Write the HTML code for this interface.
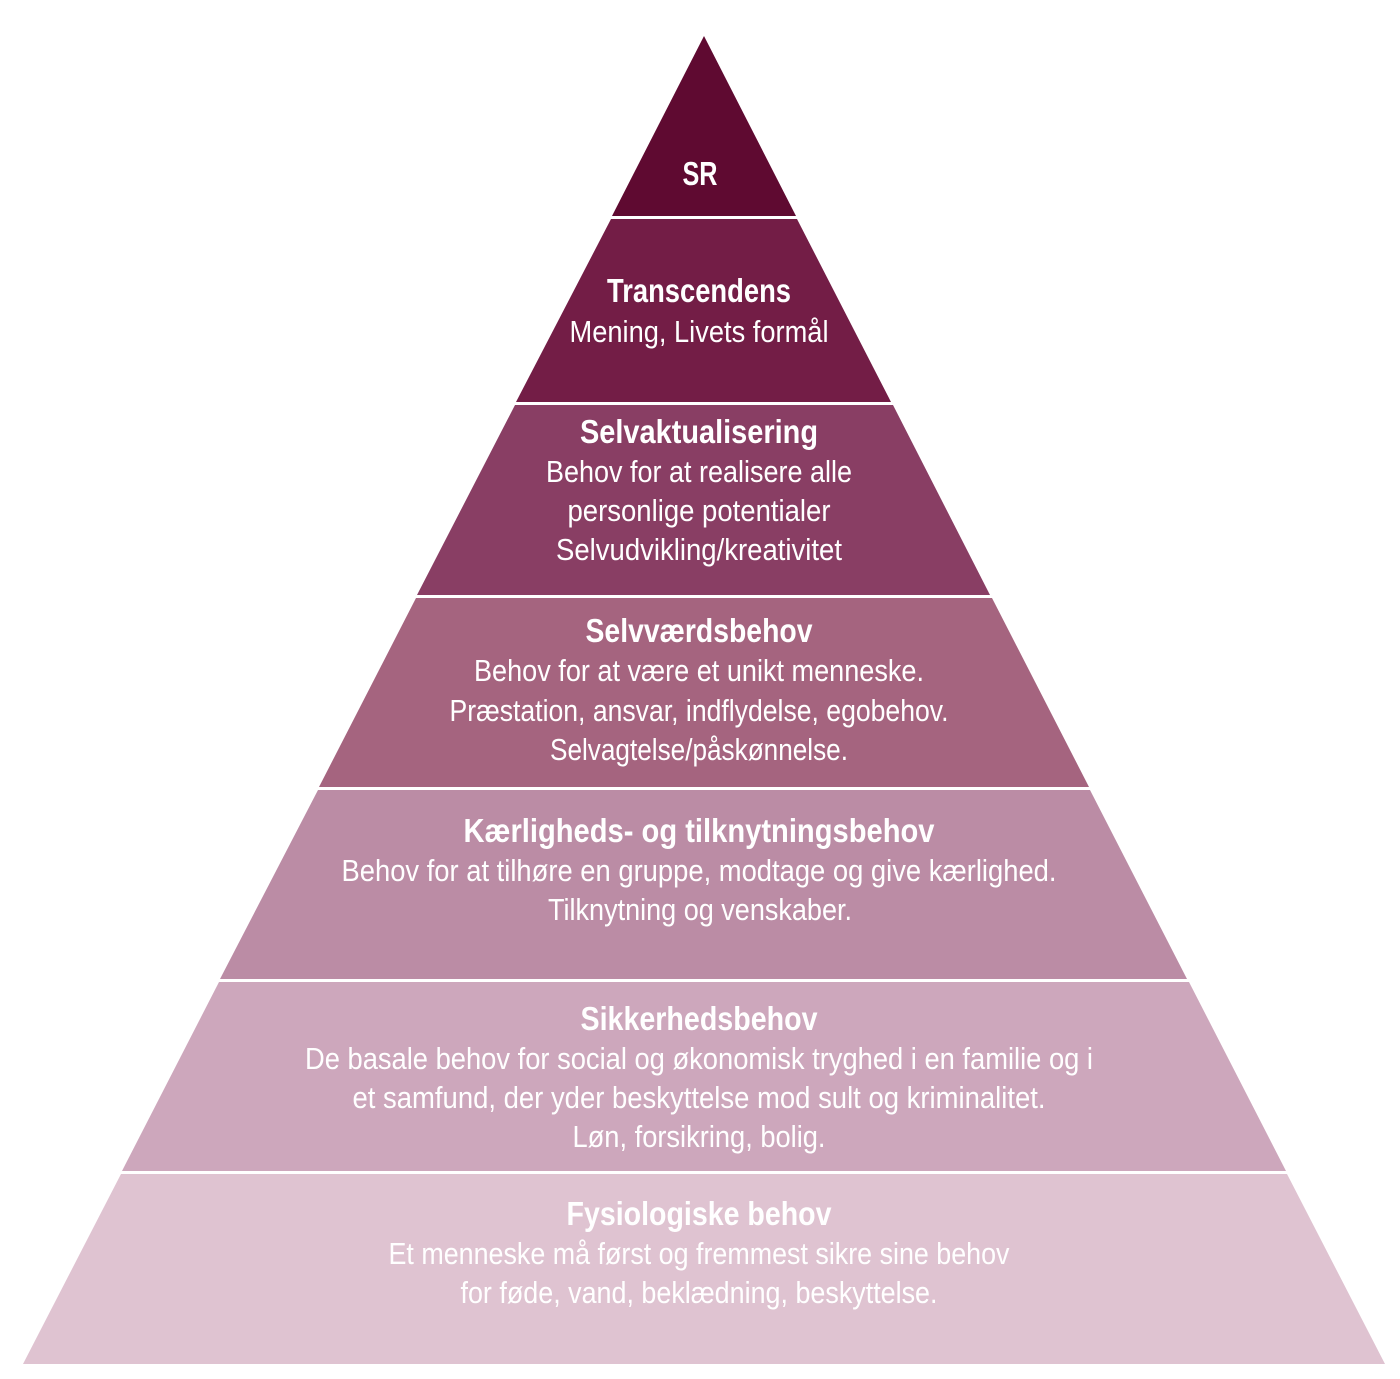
<!DOCTYPE html>
<html><head><meta charset="utf-8"><style>
html,body{margin:0;padding:0;background:#fff;width:1400px;height:1379px;overflow:hidden}
svg{display:block}
text{font-family:"Liberation Sans Narrow","Liberation Sans",sans-serif;fill:#fff;text-anchor:middle}
.b{font-weight:bold;font-size:33px}
.n{font-size:31px}
</style></head><body>
<svg width="1400" height="1379" viewBox="0 0 1400 1379">
<polygon points="704,36 796,216 612,216" fill="#5f0a31"/>
<polygon points="611,219 797,219 891,402 516,402" fill="#731d46"/>
<polygon points="515,405 893,405 990,595 417,595" fill="#893e64"/>
<polygon points="416,598 992,598 1089,787 319,787" fill="#a5647f"/>
<polygon points="318,790 1090,790 1187,979 220,979" fill="#bb8ca5"/>
<polygon points="219,982 1189,982 1286,1171 122,1171" fill="#cda7bc"/>
<polygon points="121,1174 1287,1174 1385,1364 23,1364" fill="#dfc3d1"/>

<text class="b" x="700" y="185" textLength="35" lengthAdjust="spacingAndGlyphs">SR</text>

<text class="b" x="699" y="302" textLength="184" lengthAdjust="spacingAndGlyphs">Transcendens</text>
<text class="n" x="699" y="342" textLength="259" lengthAdjust="spacingAndGlyphs">Mening, Livets formål</text>

<text class="b" x="699" y="443" textLength="238" lengthAdjust="spacingAndGlyphs">Selvaktualisering</text>
<text class="n" x="699" y="482" textLength="306" lengthAdjust="spacingAndGlyphs">Behov for at realisere alle</text>
<text class="n" x="699" y="521" textLength="263" lengthAdjust="spacingAndGlyphs">personlige potentialer</text>
<text class="n" x="699" y="560" textLength="286" lengthAdjust="spacingAndGlyphs">Selvudvikling/kreativitet</text>

<text class="b" x="699" y="642" textLength="227" lengthAdjust="spacingAndGlyphs">Selvværdsbehov</text>
<text class="n" x="699" y="681" textLength="450" lengthAdjust="spacingAndGlyphs">Behov for at være et unikt menneske.</text>
<text class="n" x="699" y="721" textLength="499" lengthAdjust="spacingAndGlyphs">Præstation, ansvar, indflydelse, egobehov.</text>
<text class="n" x="699" y="760" textLength="298" lengthAdjust="spacingAndGlyphs">Selvagtelse/påskønnelse.</text>

<text class="b" x="699" y="842" textLength="471" lengthAdjust="spacingAndGlyphs">Kærligheds- og tilknytningsbehov</text>
<text class="n" x="699" y="881" textLength="715" lengthAdjust="spacingAndGlyphs">Behov for at tilhøre en gruppe, modtage og give kærlighed.</text>
<text class="n" x="700" y="920" textLength="304" lengthAdjust="spacingAndGlyphs">Tilknytning og venskaber.</text>

<text class="b" x="699" y="1030" textLength="237" lengthAdjust="spacingAndGlyphs">Sikkerhedsbehov</text>
<text class="n" x="699" y="1069" textLength="788" lengthAdjust="spacingAndGlyphs">De basale behov for social og økonomisk tryghed i en familie og i</text>
<text class="n" x="699" y="1108" textLength="693" lengthAdjust="spacingAndGlyphs">et samfund, der yder beskyttelse mod sult og kriminalitet.</text>
<text class="n" x="699" y="1147" textLength="253" lengthAdjust="spacingAndGlyphs">Løn, forsikring, bolig.</text>

<text class="b" x="699" y="1225" textLength="265" lengthAdjust="spacingAndGlyphs">Fysiologiske behov</text>
<text class="n" x="699" y="1264" textLength="621" lengthAdjust="spacingAndGlyphs">Et menneske må først og fremmest sikre sine behov</text>
<text class="n" x="699" y="1303" textLength="477" lengthAdjust="spacingAndGlyphs">for føde, vand, beklædning, beskyttelse.</text>
</svg>
</body></html>
